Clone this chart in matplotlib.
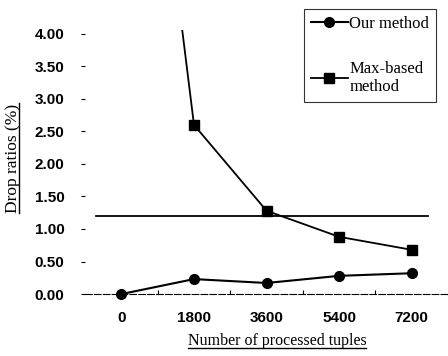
import numpy as np
import matplotlib
matplotlib.use("Agg")
import matplotlib.pyplot as plt
from matplotlib.lines import Line2D

# data
tuples = ["0", "1800", "3600", "5400", "7200"]
our_method = [0.0, 0.23, 0.17, 0.28, 0.32]
max_based = [11.6, 2.60, 1.28, 0.88, 0.68]
threshold = 1.2
yticks = [0.0, 0.5, 1.0, 1.5, 2.0, 2.5, 3.0, 3.5, 4.0]

fig = plt.figure(figsize=(4.48, 3.56), dpi=100)
ax = fig.add_axes([0.19, 0.174, 0.81, 0.742])

x = np.arange(len(tuples))
ax.plot(x, our_method, color="black", lw=1.5, marker="o", ms=7,
        clip_on=False, zorder=3, label="Our method")
ax.plot(x, max_based, color="black", lw=1.3, marker="s", ms=7,
        zorder=3, label="Max-based\nmethod")
ax.axhline(threshold, xmin=0.03, xmax=0.945, color="black", lw=1.3)

ax.set_xlim(-0.5, 4.5)
ax.set_ylim(0, 4.06)
ax.set_xticks(x)
ax.set_xticklabels(tuples, family="Liberation Sans", fontsize=11, weight="bold")
ax.set_xticks(x[:-1] + 0.5, minor=True)
ax.set_yticks(yticks)
ax.set_yticklabels(["%.2f" % v for v in yticks], family="Liberation Sans",
                   fontsize=11, weight="bold")

for s in ["top", "right", "left"]:
    ax.spines[s].set_visible(False)
ax.spines["bottom"].set_linestyle((0, (6, 2)))
ax.spines["bottom"].set_linewidth(0.8)
ax.tick_params(axis="x", which="major", length=0, pad=12)
ax.tick_params(axis="x", which="minor", length=3, width=0.8, direction="in")
ax.tick_params(axis="y", length=3, width=0.8, pad=12)

xl = ax.set_xlabel("Number of processed tuples", family="Liberation Serif",
                   fontsize=11.5)
ax.xaxis.set_label_coords(0.529, -0.148)
yl = ax.set_ylabel("Drop ratios (%)", family="Liberation Serif", fontsize=12.5)
ax.yaxis.set_label_coords(-0.176, 0.515)

leg = ax.legend(loc="upper right", bbox_to_anchor=(0.99, 1.11),
                prop={"family": "Liberation Serif", "size": 12},
                frameon=True, fancybox=False, edgecolor="black",
                handlelength=2.2, labelspacing=1.75, borderpad=0.4,
                handletextpad=0.1)
leg.get_frame().set_linewidth(0.8)

# underline the axis labels like in the original figure
fig.canvas.draw()
inv = fig.transFigure.inverted()
bb = xl.get_window_extent()
(x0, y0), (x1, y1) = inv.transform([[bb.x0, bb.y0], [bb.x1, bb.y1]])
fig.add_artist(Line2D([x0, x1], [y0 + 0.004, y0 + 0.004], color="black", lw=1.0))
bb = yl.get_window_extent()
(x0, y0), (x1, y1) = inv.transform([[bb.x0, bb.y0], [bb.x1, bb.y1]])
fig.add_artist(Line2D([x1 - 0.004, x1 - 0.004], [y0, y1], color="black", lw=1.0))

fig.savefig("out.png", dpi=100)
